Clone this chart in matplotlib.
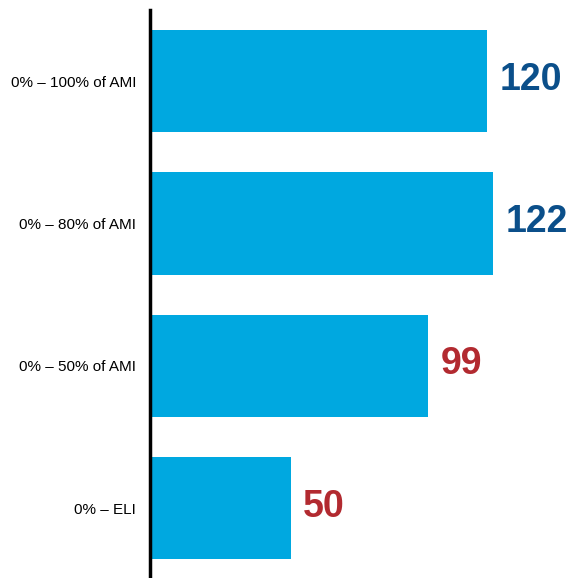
import matplotlib.pyplot as plt

categories = ["0% – 100% of AMI", "0% – 80% of AMI", "0% – 50% of AMI", "0% – ELI"]
values = [120, 122, 99, 50]
value_colors = ["#0b4f8a", "#0b4f8a", "#b22a30", "#b22a30"]

fig = plt.figure(figsize=(5.67, 5.78), dpi=100)
ax = fig.add_axes([150 / 567, 0, 1 - 150 / 567, 568 / 578])

y = list(range(len(categories)))
ax.barh(y, values, height=0.72, color="#00a8e0", left=0)

# nombres en bout de barre
for yi, v, c in zip(y, values, value_colors):
    ax.text(v + 4.5, yi - 0.01, str(v), va="center", ha="left", fontsize=27,
            fontweight="bold", color=c, family=["Liberation Sans", "DejaVu Sans"])

ax.set_xlim(0, 417 / 2.81)
ax.set_ylim(3.49, -0.5)
ax.set_yticks(y)
ax.set_yticklabels(categories, fontsize=11, family=["Liberation Sans", "DejaVu Sans"])
ax.tick_params(axis="y", length=0, pad=10)
ax.set_xticks([])
for s in ["top", "right", "bottom"]:
    ax.spines[s].set_visible(False)
ax.spines["left"].set_linewidth(2.5)

fig.savefig("out.png", dpi=100)
